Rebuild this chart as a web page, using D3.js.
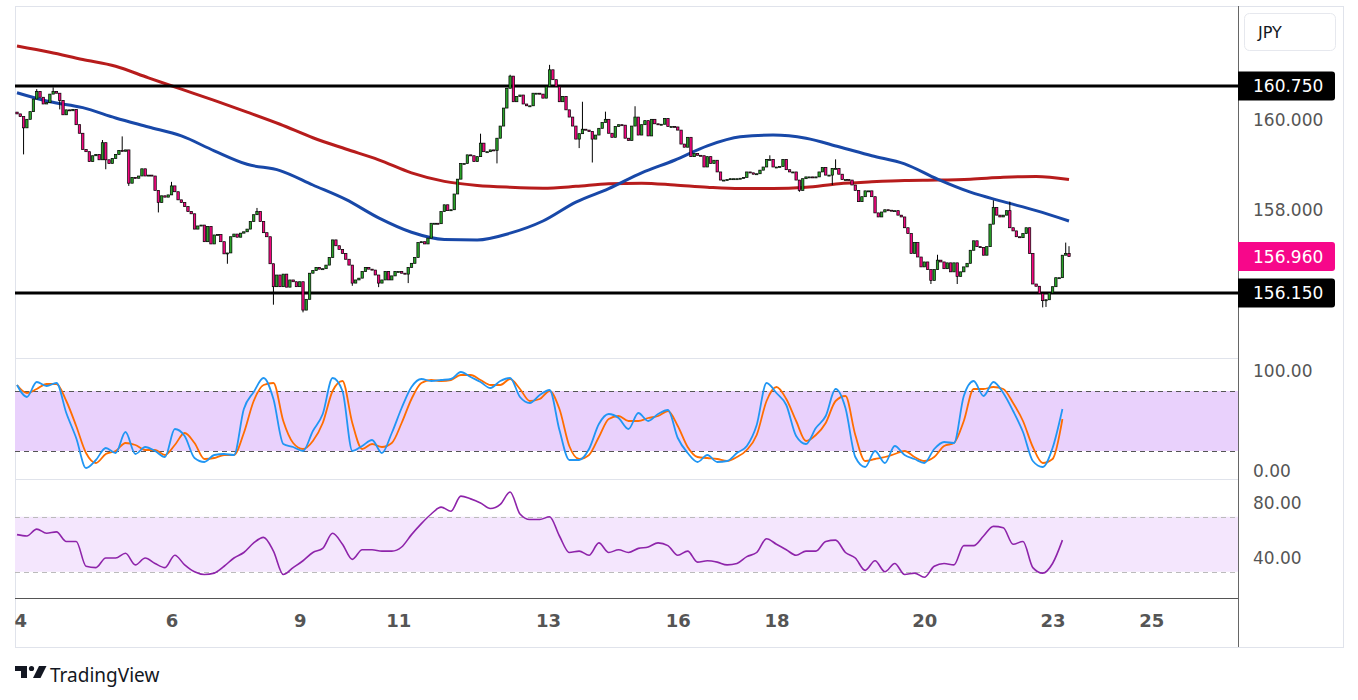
<!DOCTYPE html>
<html>
<head>
<meta charset="utf-8">
<style>
body { margin: 0; background: #fff; }
svg { display: block; font-family: "DejaVu Sans", sans-serif; }
</style>
</head>
<body>
<div id="chart"></div>
<script src="https://d3js.org/d3.v7.min.js"></script>
<script>
// hourly closes, the open of a bar is the previous close
var firstOpen = 160.17;
var closes = [
  160.13,160.07,159.82,160.01,160.18,160.46,160.63,160.50,160.35,160.38,
  160.57,160.63,160.59,160.43,160.11,160.22,160.20,160.23,159.89,159.70,
  159.34,159.29,159.07,159.20,159.23,159.11,159.49,159.11,159.03,159.14,
  159.23,159.32,159.30,159.33,158.59,158.72,158.70,158.75,158.91,158.75,
  158.77,158.75,158.43,158.16,158.31,158.28,158.33,158.53,158.40,158.22,
  158.16,158.07,157.96,157.91,157.57,157.64,157.66,157.29,157.63,157.24,
  157.44,157.45,157.29,157.02,157.04,157.40,157.46,157.39,157.48,157.51,
  157.57,157.74,157.89,157.96,157.74,157.49,157.40,156.80,156.29,156.55,
  156.29,156.57,156.28,156.44,156.40,156.29,156.40,155.77,156.01,156.59,
  156.65,156.72,156.68,156.69,156.77,156.94,157.33,157.20,157.12,157.03,
  156.90,156.77,156.37,
  156.44,156.48,156.63,156.72,156.68,156.66,156.55,156.37,156.44,156.63,
  156.44,156.53,156.63,156.63,156.59,156.57,156.72,156.81,156.94,157.27,
  157.29,157.24,157.37,157.70,157.70,157.69,157.96,158.11,157.98,158.00,
  158.35,158.68,159.03,159.03,159.22,159.20,159.07,159.18,159.48,159.29,
  159.29,159.33,159.32,159.59,159.86,160.26,160.70,160.97,160.40,160.52,
  160.55,160.35,160.31,160.31,160.59,160.59,160.57,160.48,160.74,161.11,
  160.89,160.74,160.40,160.52,160.22,160.06,159.86,159.57,159.69,159.79,
  159.77,159.74,159.57,159.66,159.81,159.94,160.01,159.70,159.61,159.85,
  159.89,159.88,159.59,159.54,159.86,160.06,159.66,159.89,159.98,159.64,
  160.01,159.91,159.89,159.90,160.03,159.85,159.85,159.84,159.77,159.46,
  159.39,159.61,159.18,
  159.25,159.21,159.20,158.95,159.18,159.03,159.10,158.84,158.66,158.66,
  158.67,158.69,158.69,158.69,158.70,158.72,158.84,158.82,158.79,158.80,
  158.88,158.95,159.12,159.12,158.95,158.95,158.96,159.12,158.89,158.84,
  158.84,158.66,158.43,158.69,158.73,158.73,158.72,158.73,158.84,158.94,
  158.77,158.77,158.92,158.92,158.79,158.67,158.67,158.66,158.55,158.43,
  158.18,158.29,158.42,158.42,158.29,157.93,157.84,157.95,158.00,157.99,
  157.98,157.98,157.88,157.84,157.60,157.47,157.03,157.27,156.95,156.73,
  156.84,156.67,156.43,156.67,156.88,156.84,156.69,156.82,156.62,156.82,
  156.52,156.62,156.73,156.81,157.10,157.31,157.18,157.16,156.99,157.18,
  157.68,158.05,157.88,157.84,157.88,157.98,157.60,157.53,157.40,157.38,
  157.47,157.60,157.03,156.35,156.30,156.14,155.98,156.00,156.15,156.29,
  156.49,156.49,156.99,157.03,156.96
];

// wicks that stick out of the body: [bar, high, low]
var wicks = [
  [2,null,159.23],[6,160.68,null],[11,160.72,null],[13,null,160.23],[26,159.55,null],
  [27,null,158.90],[32,159.63,null],[34,null,158.53],[43,null,157.94],[47,158.62,null],
  [64,null,156.80],[73,158.04,null],[78,null,155.89],[87,null,155.72],[102,null,156.31],
  [110,null,156.28],[119,null,156.37],[141,159.69,null],[146,null,159.03],[150,161.00,null],
  [162,161.22,null],[171,null,159.37],[172,160.40,null],[175,null,159.05],[179,160.18,null],
  [188,160.30,null],[229,159.21,null],[238,null,158.40],[248,null,158.55],[249,159.12,null],
  [278,null,156.35],[280,157.00,null],[286,null,156.35],[297,158.21,null],[302,158.18,null],
  [312,null,155.83],[313,null,155.84],[319,157.27,null],[320,157.19,null]
];

// moving averages, one value every maStep bars
var maStep = 10;
var maBlue = [160.60,160.40,160.27,160.04,159.84,159.64,159.31,159.01,158.87,158.55,
  158.23,157.82,157.50,157.34,157.33,157.48,157.75,158.17,158.47,158.82,
  159.10,159.42,159.62,159.66,159.59,159.40,159.20,159.02,158.68,158.39,
  158.18,157.98,157.75];
var maRed = [161.64,161.50,161.34,161.19,160.93,160.68,160.43,160.17,159.90,159.60,
  159.35,159.11,158.82,158.63,158.54,158.50,158.48,158.52,158.58,158.59,
  158.55,158.50,158.47,158.47,158.50,158.58,158.62,158.65,158.66,158.68,
  158.72,158.74,158.67];

// oscillators, one value every oscStep bars
var oscStep = 3;
var stochK = [86,74,89,85,88,58,33,3,11,23,
  18,39,17,24,20,14,42,35,13,9,
  16,17,16,62,79,93,72,27,24,20,
  40,57,93,80,20,25,31,18,38,63,
  84,92,90,91,92,99,94,89,83,90,
  93,74,68,76,81,41,11,11,22,47,
  57,53,42,58,50,57,61,33,18,9,
  16,9,10,18,25,46,88,78,66,35,
  27,43,55,82,63,14,4,20,8,25,
  16,12,8,22,29,28,75,90,75,89,
  78,60,39,10,4,23,62];
var stochD = [86,78,82,87,87,70,45,18,8,17,
  20,28,26,21,21,16,26,38,28,12,
  13,16,16,38,70,86,88,50,28,22,
  30,48,80,90,48,22,27,24,28,48,
  72,88,91,90,91,96,96,91,86,86,
  92,82,70,72,80,62,25,12,16,34,
  52,55,50,50,53,55,60,45,24,14,
  13,12,10,14,21,36,70,84,72,50,
  30,36,48,70,75,36,10,12,14,17,
  20,14,10,14,25,28,50,82,82,84,
  82,68,50,24,8,12,52];
var rsi = [57,56,61,58,59,52,52,34,33,40,
  40,43.5,35,40,36,33,42,35,30,28,
  29,34,40,44,51,55,45,28,33,38,
  44,47,58,50,39,46,46,45,45,48,
  57,65,72,77,74,85,83,80,76,79,
  88,72,68,68,70,56,44,45,42,51,
  44,46,44,47,48,51,49,42,45,37,
  38,37,35,36,41,44,54,50,46,42,
  45,45,52,53,44,40,31,38,30,36,
  28,29,26,34,36,35,49,49,56,63,
  62,50,52,33,29,36,53];

var dateLabels = ['4','6','9','11','13','16','18','20','23','25'];
var dateBars = [1,47,86,116,161.5,201,231,276,315,345];
var levels = [160.75, 156.15];
var priceTicks = [160, 158];
var stochTicks = [100, 0];
var rsiTicks = [80, 40];

var W = 1358, H = 700;
var left = 15, axisX = 1238, right = 1343;

var svg = d3.select('#chart').append('svg').attr('width', W).attr('height', H);

var x = d3.scaleLinear().domain([0, closes.length - 1]).range([17, 1069]);
var yMain = d3.scaleLinear().domain([156.15, 160.75]).range([293, 86]);
var yStoch = d3.scaleLinear().domain([0, 100]).range([471, 371]);
var yRsi = d3.scaleLinear().domain([40, 80]).range([558, 503]);

var defs = svg.append('defs');
defs.append('clipPath').attr('id', 'clipMain').append('rect')
  .attr('x', left).attr('y', 7).attr('width', axisX - left).attr('height', 351);
defs.append('clipPath').attr('id', 'clipOsc').append('rect')
  .attr('x', left).attr('y', 359).attr('width', axisX - left).attr('height', 239);

// frame
var frame = svg.append('g').attr('fill', 'none').attr('stroke', '#e0e3eb').attr('stroke-width', 1);
frame.append('rect').attr('x', left + 0.5).attr('y', 6.5).attr('width', right - left).attr('height', 641);
frame.append('line').attr('x1', left).attr('x2', axisX).attr('y1', 358.5).attr('y2', 358.5);
frame.append('line').attr('x1', left).attr('x2', axisX).attr('y1', 479.5).attr('y2', 479.5);

// oscillator bands
svg.append('rect').attr('x', left).attr('width', axisX - left)
  .attr('y', yStoch(80)).attr('height', yStoch(20) - yStoch(80)).attr('fill', '#e9d1fc');
svg.append('rect').attr('x', left).attr('width', axisX - left)
  .attr('y', yRsi(70)).attr('height', yRsi(30) - yRsi(70)).attr('fill', '#f4e6fd');

[80, 20].forEach(function(v) {
  svg.append('line').attr('x1', left).attr('x2', axisX)
    .attr('y1', Math.round(yStoch(v)) + 0.5).attr('y2', Math.round(yStoch(v)) + 0.5)
    .attr('stroke', '#555').attr('stroke-dasharray', '5,4');
});
[70, 30].forEach(function(v) {
  svg.append('line').attr('x1', left).attr('x2', axisX)
    .attr('y1', Math.round(yRsi(v)) + 0.5).attr('y2', Math.round(yRsi(v)) + 0.5)
    .attr('stroke', '#bbb').attr('stroke-dasharray', '5,4');
});

// main pane
var main = svg.append('g').attr('clip-path', 'url(#clipMain)');

var maLine = d3.line().x(function(d, i) { return x(i * maStep); }).y(function(d) { return yMain(d); })
  .curve(d3.curveMonotoneX);
main.append('path').datum(maRed).attr('d', maLine)
  .attr('fill', 'none').attr('stroke', '#b71c1c').attr('stroke-width', 3);
main.append('path').datum(maBlue).attr('d', maLine)
  .attr('fill', 'none').attr('stroke', '#1848a8').attr('stroke-width', 3);

levels.forEach(function(v) {
  main.append('line').attr('x1', left).attr('x2', axisX)
    .attr('y1', yMain(v)).attr('y2', yMain(v))
    .attr('stroke', '#000').attr('stroke-width', 3);
});

var candles = closes.map(function(c, i) {
  var o = i ? closes[i - 1] : firstOpen;
  return { i: i, o: o, c: c, h: Math.max(o, c), l: Math.min(o, c) };
});
wicks.forEach(function(w) {
  var d = candles[w[0]];
  if (w[1] != null) d.h = Math.max(d.h, w[1]);
  if (w[2] != null) d.l = Math.min(d.l, w[2]);
});

var bodyW = 2.4;
var cg = main.selectAll('.candle').data(candles).enter().append('g').attr('class', 'candle');
cg.append('line')
  .attr('x1', function(d) { return x(d.i); }).attr('x2', function(d) { return x(d.i); })
  .attr('y1', function(d) { return yMain(d.h); }).attr('y2', function(d) { return yMain(d.l); })
  .attr('stroke', '#000').attr('stroke-width', 1);
cg.append('rect')
  .attr('x', function(d) { return x(d.i) - bodyW / 2; })
  .attr('width', bodyW)
  .attr('y', function(d) { return yMain(Math.max(d.o, d.c)); })
  .attr('height', function(d) { return Math.max(1, Math.abs(yMain(d.o) - yMain(d.c))); })
  .attr('fill', function(d) { return d.c >= d.o ? '#28a228' : '#f2077f'; })
  .attr('stroke', '#000').attr('stroke-width', 0.7);

// oscillators
var osc = svg.append('g').attr('clip-path', 'url(#clipOsc)');
function oscLine(y) {
  return d3.line().x(function(d, i) { return x(i * oscStep); }).y(function(d) { return y(d); })
    .curve(d3.curveMonotoneX);
}
osc.append('path').datum(stochD).attr('d', oscLine(yStoch))
  .attr('fill', 'none').attr('stroke', '#ff6d00').attr('stroke-width', 1.8);
osc.append('path').datum(stochK).attr('d', oscLine(yStoch))
  .attr('fill', 'none').attr('stroke', '#2196f3').attr('stroke-width', 1.8);
osc.append('path').datum(rsi).attr('d', oscLine(yRsi))
  .attr('fill', 'none').attr('stroke', '#8e24aa').attr('stroke-width', 1.6);

// axes
svg.append('line').attr('x1', axisX + 0.5).attr('x2', axisX + 0.5).attr('y1', 6).attr('y2', 647)
  .attr('stroke', '#666').attr('stroke-width', 1);
svg.append('line').attr('x1', left).attr('x2', axisX).attr('y1', 598.5).attr('y2', 598.5)
  .attr('stroke', '#555').attr('stroke-width', 1.2);

var xAxis = svg.append('g').attr('transform', 'translate(0,598)')
  .call(d3.axisBottom(x).tickValues(dateBars).tickSize(0).tickPadding(16)
    .tickFormat(function(d, i) { return dateLabels[i]; }));
xAxis.select('.domain').remove();
xAxis.selectAll('text').attr('font-size', 18).attr('font-weight', 'bold')
  .attr('fill', '#555').attr('font-family', '"DejaVu Sans", sans-serif');

function rightAxis(scale, ticks, fmt) {
  var g = svg.append('g').attr('transform', 'translate(' + axisX + ',0)')
    .call(d3.axisRight(scale).tickValues(ticks).tickSize(0).tickPadding(15).tickFormat(d3.format(fmt)));
  g.select('.domain').remove();
  g.selectAll('text').attr('font-size', 17).attr('fill', '#555')
    .attr('font-family', '"DejaVu Sans", sans-serif');
  return g;
}
rightAxis(yMain, priceTicks, '.3f');
rightAxis(yStoch, stochTicks, '.2f');
rightAxis(yRsi, rsiTicks, '.2f');

// price labels
var tags = levels.map(function(v) { return { v: v, fill: '#000' }; });
tags.push({ v: closes[closes.length - 1], fill: '#f7078a' });
var tg = svg.selectAll('.tag').data(tags).enter().append('g').attr('class', 'tag');
tg.append('path')
  .attr('d', function(d) {
    var y0 = yMain(d.v) - 14.5, h = 29, w = 97, r = 3;
    return 'M' + axisX + ',' + y0 + 'H' + (axisX + w - r) + 'Q' + (axisX + w) + ',' + y0 + ' ' + (axisX + w) + ',' + (y0 + r) +
      'V' + (y0 + h - r) + 'Q' + (axisX + w) + ',' + (y0 + h) + ' ' + (axisX + w - r) + ',' + (y0 + h) + 'H' + axisX + 'Z';
  })
  .attr('fill', function(d) { return d.fill; });
tg.append('text')
  .attr('x', axisX + 15).attr('y', function(d) { return yMain(d.v); })
  .attr('dy', '0.36em').attr('font-size', 17).attr('fill', '#fff')
  .text(function(d) { return d3.format('.3f')(d.v); });

// currency box
svg.append('rect').attr('x', 1244.5).attr('y', 13.5).attr('width', 91).attr('height', 37).attr('rx', 5)
  .attr('fill', '#fff').attr('stroke', '#e6e8ee');
svg.append('text').attr('x', 1258).attr('y', 32).attr('dy', '0.36em')
  .attr('font-size', 16).attr('fill', '#131722').text('JPY');

// logo
var logo = svg.append('g').attr('fill', '#131722');
logo.append('path').attr('d', 'M15,666H27V678H21V671H15Z');
logo.append('circle').attr('cx', 31.5).attr('cy', 668.5).attr('r', 2.6);
logo.append('path').attr('d', 'M33,678L39,666H46.5L40.5,678Z');
svg.append('text').attr('x', 50).attr('y', 675).attr('dy', '0.36em')
  .attr('font-family', '"Noto Sans", sans-serif').attr('font-size', 19).attr('fill', '#131722')
  .text('TradingView');
</script>
</body>
</html>
